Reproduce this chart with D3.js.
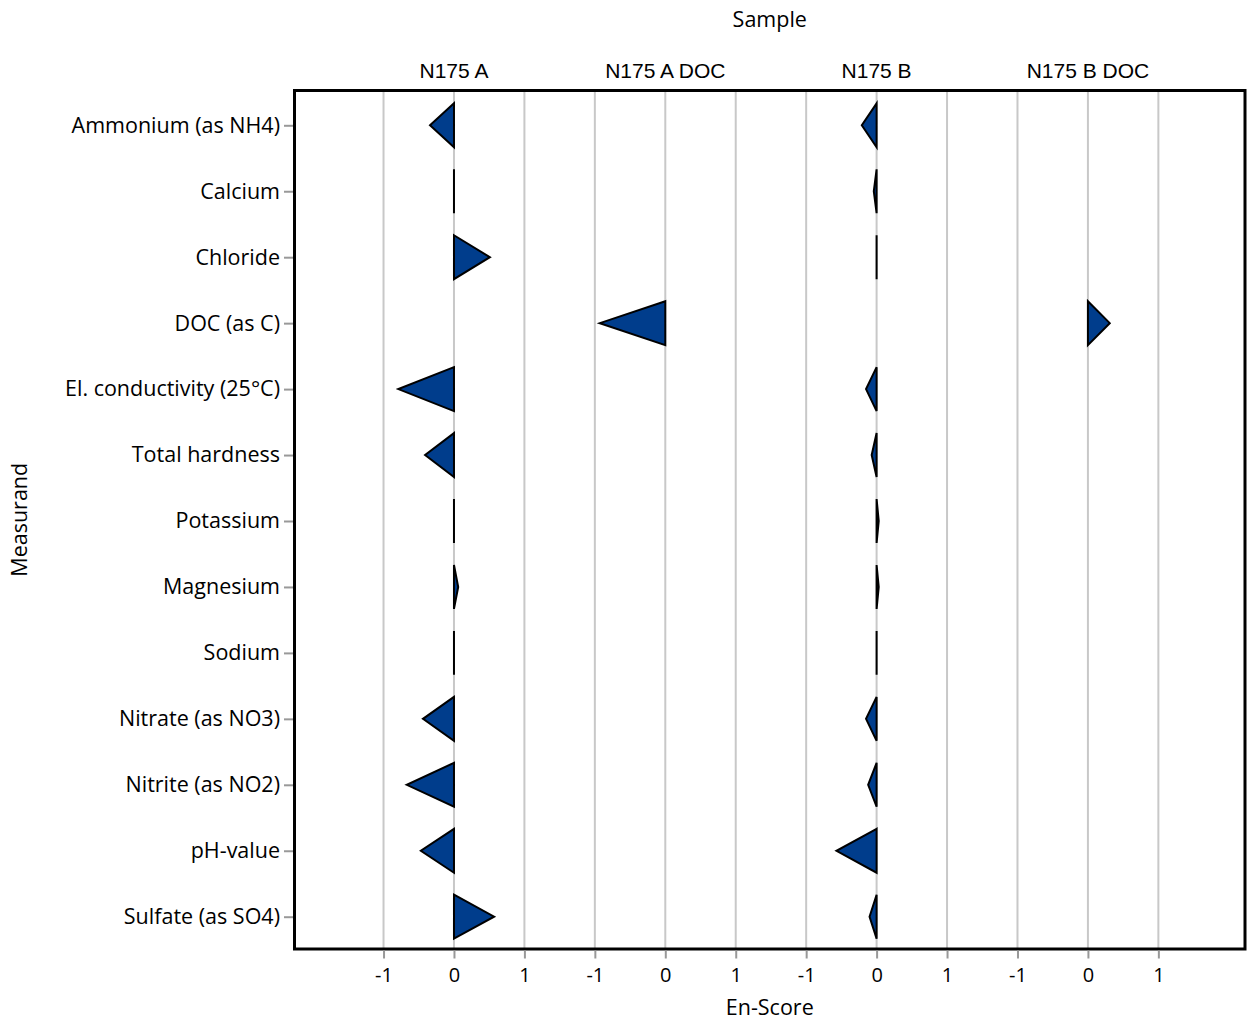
<!DOCTYPE html>
<html><head><meta charset="utf-8">
<script src="https://cdn.jsdelivr.net/npm/d3@7/dist/d3.min.js"></script>
<style>body{margin:0;background:#fff;} svg{display:block;}</style>
</head><body>
<svg id="chart" width="1247" height="1021"></svg>
<script>
const measurands = ["Ammonium (as NH4)","Calcium","Chloride","DOC (as C)","El. conductivity (25°C)","Total hardness","Potassium","Magnesium","Sodium","Nitrate (as NO3)","Nitrite (as NO2)","pH-value","Sulfate (as SO4)"];
const samples = ["N175 A","N175 A DOC","N175 B","N175 B DOC"];
const tickValues = [-1, 0, 1];
const valuesA    = [-0.34, 0, 0.51, null, -0.79, -0.41, 0, 0.06, 0, -0.44, -0.67, -0.47, 0.57];
const valuesADOC = [null, null, null, -0.93, null, null, null, null, null, null, null, null, null];
const valuesB    = [-0.21, -0.04, 0, null, -0.15, -0.07, 0.03, 0.03, 0, -0.15, -0.12, -0.57, -0.10];
const valuesBDOC = [null, null, null, 0.31, null, null, null, null, null, null, null, null, null];
const seriesValues = [valuesA, valuesADOC, valuesB, valuesBDOC];

const svg = d3.select("#chart");
const L = 294.5, R = 1245, T = 90.5, B = 949;
const facetSpan = 3;
const x = d3.scaleLinear().domain([-2.264, 11.23]).range([L, R]);
const y = d3.scalePoint().domain(measurands).range([91, 951]).padding(0.52);
const halfH = y.step() * 0.333;
const sansOS = "'Open Sans', sans-serif";
const sansAr = "'Liberation Sans', Arial, sans-serif";

// gridlines
const gridVals = [];
samples.forEach((s, i) => tickValues.forEach(t => gridVals.push({v: t + i * facetSpan, t})));
svg.append("g").selectAll("line").data(gridVals).join("line")
  .attr("x1", d => x(d.v)).attr("x2", d => x(d.v))
  .attr("y1", T).attr("y2", B)
  .attr("stroke", "#c8c8c8").attr("stroke-width", 2);

// triangles
const marks = [];
samples.forEach((s, i) => seriesValues[i].forEach((v, j) => {
  if (v !== null) marks.push({sample: s, off: i * facetSpan, m: measurands[j], v});
}));
svg.append("g").selectAll("path").data(marks).join("path")
  .attr("d", d => {
    const x0 = x(d.off), x1 = x(d.off + d.v), yc = y(d.m);
    return `M${x0},${yc - halfH}L${x1},${yc}L${x0},${yc + halfH}Z`;
  })
  .attr("fill", "#003d8c").attr("stroke", "#000").attr("stroke-width", 2)
  .attr("stroke-linejoin", "miter");

// frame
svg.append("rect").attr("x", L).attr("y", T).attr("width", R - L).attr("height", B - T)
  .attr("fill", "none").attr("stroke", "#000").attr("stroke-width", 3);

// x axis
const xAxis = d3.axisBottom(x).tickValues(gridVals.map(d => d.v))
  .tickFormat((d, i) => String(gridVals[i].t)).tickSize(8).tickPadding(9);
const gx = svg.append("g").attr("transform", `translate(0,${B + 1.5})`).call(xAxis);
gx.select(".domain").remove();
gx.selectAll(".tick line").attr("stroke", "#999").attr("stroke-width", 2);
gx.selectAll(".tick text").attr("font-family", sansOS).attr("font-size", 20).attr("fill", "#000");

// y axis
const yAxis = d3.axisLeft(y).tickSize(9).tickPadding(4);
const gy = svg.append("g").attr("transform", `translate(${L - 1.5},0)`).call(yAxis);
gy.select(".domain").remove();
gy.selectAll(".tick line").attr("stroke", "#999").attr("stroke-width", 2);
gy.selectAll(".tick text").attr("font-family", sansOS).attr("font-size", 21.5).attr("fill", "#000");

// facet headers
svg.append("g").selectAll("text").data(samples).join("text")
  .attr("x", (d, i) => x(i * facetSpan)).attr("y", 78)
  .attr("text-anchor", "middle").attr("font-family", sansAr).attr("font-size", 21)
  .attr("fill", "#000").text(d => d);

// titles
svg.append("text").attr("x", (L + R) / 2).attr("y", 27).attr("text-anchor", "middle")
  .attr("font-family", sansOS).attr("font-size", 21.5).text("Sample");
svg.append("text").attr("x", (L + R) / 2).attr("y", 1015).attr("text-anchor", "middle")
  .attr("font-family", sansOS).attr("font-size", 21.5).text("En-Score");
svg.append("text").attr("transform", `translate(27,${(T + B) / 2}) rotate(-90)`)
  .attr("text-anchor", "middle").attr("font-family", sansOS).attr("font-size", 21.5).text("Measurand");
</script>
</body></html>
